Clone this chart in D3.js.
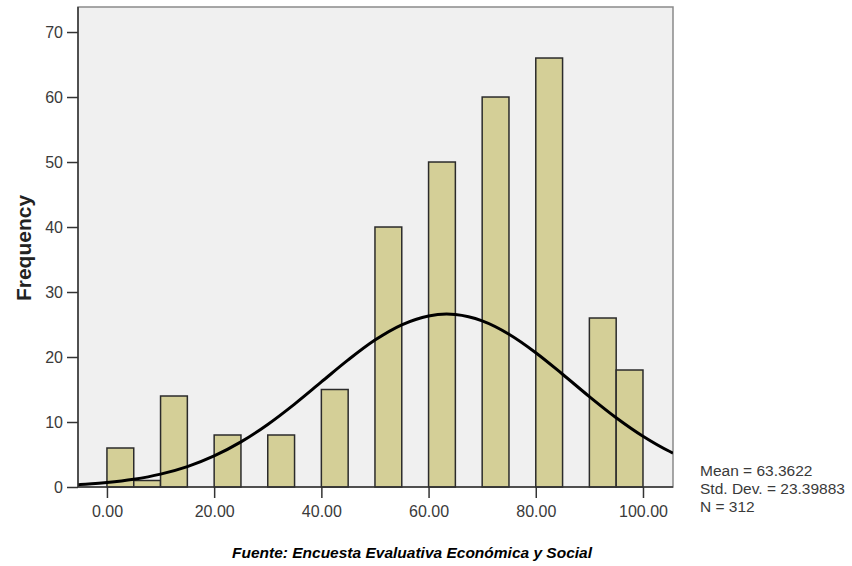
<!DOCTYPE html>
<html>
<head>
  <meta charset="utf-8">
  <title>histogram</title>
  <style>
    * { padding: 0; margin: 0; }
    body { background: #fff; }
    svg { display: block; font-family: "Liberation Sans", Arial, sans-serif; }
    .axis text { font-size: 16px; fill: #3a3a3a; }
    .axis path, .axis line { stroke: #333; stroke-width: 1.5px; }
    .bar { fill: #d4cf97; stroke: #2b2b2b; stroke-width: 1.5px; }
  </style>
</head>
<body>
  <svg id="svg"></svg>
  <script src="https://cdnjs.cloudflare.com/ajax/libs/d3/7.8.5/d3.min.js"></script>
  <script>
    // histogram bins (lower edge, width 5) and frequencies
    const binStarts = [0, 5, 10, 20, 30, 40, 50, 60, 70, 80, 90, 95];
    const counts = [6, 1, 14, 8, 8, 15, 40, 50, 60, 66, 26, 18];
    const binWidth = 5;

    // normal curve
    const curveX = [-5.4, -5, 0, 5, 10, 15, 20, 25, 30, 35, 40, 45, 50, 55, 60, 63.36, 65, 70, 75, 80, 85, 90, 95, 100, 105, 105.6];
    const curveY = [0.36, 0.37, 0.68, 1.19, 1.98, 3.14, 4.78, 6.94, 9.63, 12.76, 16.16, 19.55, 22.6, 24.95, 26.32, 26.6, 26.53, 25.55, 23.5, 20.66, 17.35, 13.91, 10.66, 7.81, 5.46, 5.22];

    const xTicks = [0, 20, 40, 60, 80, 100];
    const yTicks = [0, 10, 20, 30, 40, 50, 60, 70];
    const statLines = ['Mean = 63.3622', 'Std. Dev. = 23.39883', 'N = 312'];
    const yTitle = 'Frequency';
    const source = 'Fuente: Encuesta Evaluativa Económica y Social';

    const dim = { width: 852, height: 566, left: 78, right: 673, top: 7, bottom: 487 };

    const svg = d3.select('#svg').attr('width', dim.width).attr('height', dim.height);

    const x = d3.scaleLinear().domain([-5.4, 105.6]).range([dim.left, dim.right]);
    const y = d3.scaleLinear().domain([0, 73.85]).range([dim.bottom, dim.top]);

    // plot background + frame
    svg.append('rect')
      .attr('x', dim.left).attr('y', dim.top)
      .attr('width', dim.right - dim.left).attr('height', dim.bottom - dim.top)
      .attr('fill', '#f0f0f0')
      .attr('stroke', '#8a8a8a')
      .attr('stroke-width', 1.5);

    const bins = binStarts.map((s, i) => ({ x0: s, x1: s + binWidth, n: counts[i] }));

    svg.append('g')
      .selectAll('rect')
      .data(bins)
      .enter()
      .append('rect')
      .attr('class', 'bar')
      .attr('x', d => x(d.x0))
      .attr('width', d => x(d.x1) - x(d.x0))
      .attr('y', d => y(d.n))
      .attr('height', d => y(0) - y(d.n));

    svg.append('clipPath').attr('id', 'clip')
      .append('rect')
      .attr('x', dim.left).attr('y', dim.top)
      .attr('width', dim.right - dim.left).attr('height', dim.bottom - dim.top);

    const line = d3.line()
      .x(d => x(d[0]))
      .y(d => y(d[1]))
      .curve(d3.curveMonotoneX);

    svg.append('path')
      .datum(curveX.map((v, i) => [v, curveY[i]]))
      .attr('d', line)
      .attr('clip-path', 'url(#clip)')
      .attr('fill', 'none')
      .attr('stroke', '#000')
      .attr('stroke-width', 3);

    // axes
    svg.append('g')
      .attr('class', 'axis')
      .attr('transform', `translate(0, ${dim.bottom})`)
      .call(d3.axisBottom(x).tickValues(xTicks).tickFormat(d3.format('.2f')).tickSize(11).tickSizeOuter(0).tickPadding(8))
      .call(g => g.select('.domain').remove());

    svg.append('line')
      .attr('x1', dim.left).attr('x2', dim.right)
      .attr('y1', dim.bottom).attr('y2', dim.bottom)
      .attr('stroke', '#333').attr('stroke-width', 1.5);

    svg.append('g')
      .attr('class', 'axis')
      .attr('transform', `translate(${dim.left}, 0)`)
      .call(d3.axisLeft(y).tickValues(yTicks).tickSize(11).tickSizeOuter(0).tickPadding(4))
      .call(g => g.select('.domain').attr('d', `M0,${dim.top}V${dim.bottom}`));

    svg.append('text')
      .text(yTitle)
      .attr('transform', `translate(31, 248) rotate(-90)`)
      .attr('text-anchor', 'middle')
      .style('font-size', '21px')
      .style('font-weight', 'bold')
      .attr('fill', '#222');

    svg.append('g')
      .selectAll('text')
      .data(statLines)
      .enter()
      .append('text')
      .attr('x', 700)
      .attr('y', (d, i) => 476 + i * 18)
      .text(d => d)
      .style('font-size', '15.5px')
      .attr('fill', '#3a3a3a');

    svg.append('text')
      .text(source)
      .attr('x', 412)
      .attr('y', 558)
      .attr('text-anchor', 'middle')
      .style('font-size', '15.5px')
      .style('font-weight', 'bold')
      .style('font-style', 'italic')
      .attr('fill', '#000');
  </script>
</body>
</html>
